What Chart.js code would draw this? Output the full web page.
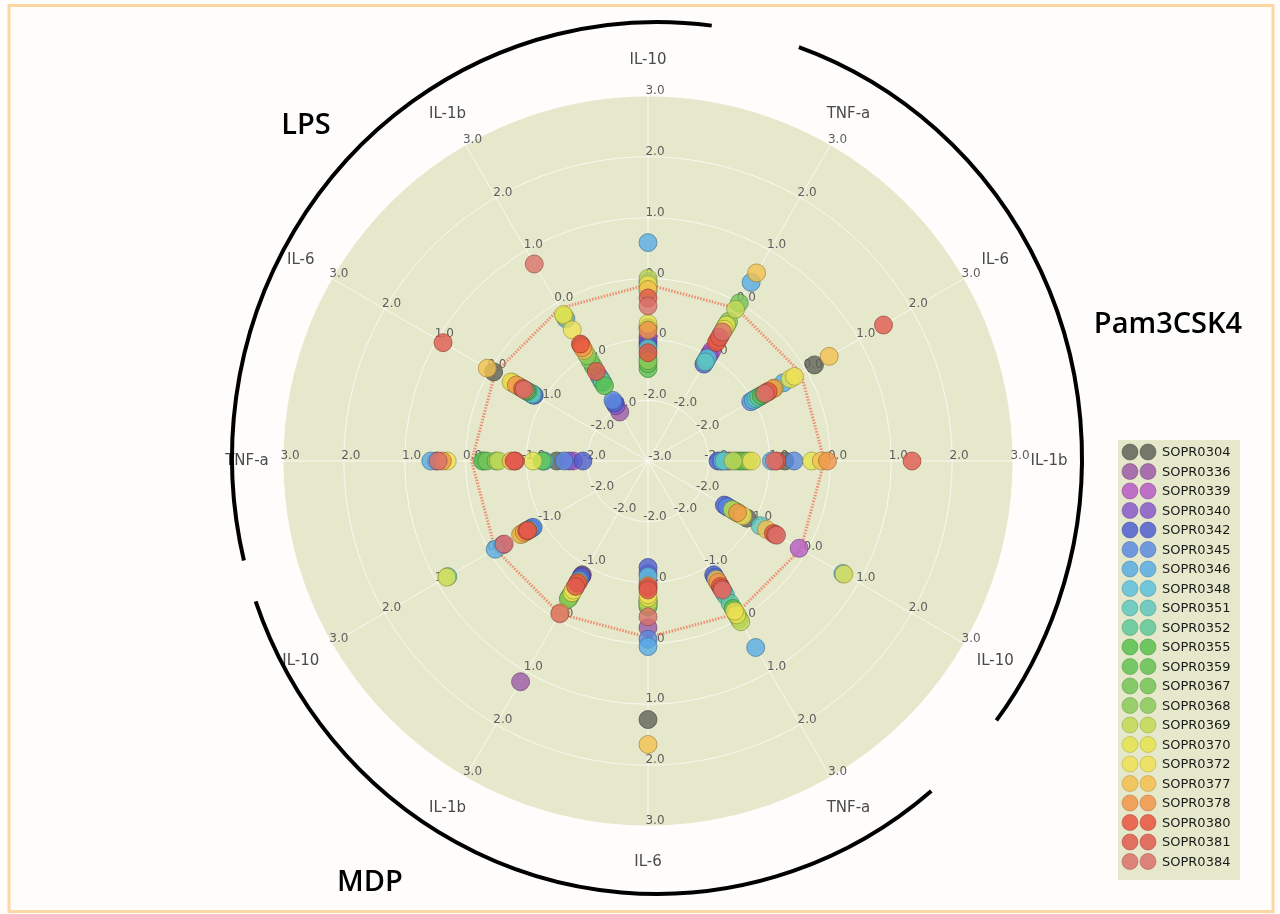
<!DOCTYPE html>
<html><head><meta charset="utf-8">
<script src="https://cdn.jsdelivr.net/npm/chart.js@4.4.0/dist/chart.umd.min.js"></script>
<style>html,body{margin:0;padding:0;background:#fff;}canvas{display:block;}</style>
</head><body>
<canvas id="c" width="1280" height="914"></canvas>
<script>
// ---------- data ----------
const spokes = ['IL-10','TNF-a','IL-6','IL-1b','IL-10','TNF-a','IL-6','IL-1b','IL-10','TNF-a','IL-6','IL-1b'];
const samples = ['SOPR0304','SOPR0336','SOPR0339','SOPR0340','SOPR0342','SOPR0345','SOPR0346','SOPR0348','SOPR0351','SOPR0352','SOPR0355','SOPR0359','SOPR0367','SOPR0368','SOPR0369','SOPR0370','SOPR0372','SOPR0377','SOPR0378','SOPR0380','SOPR0381','SOPR0384'];
const sampleColors = ['#5f6358','#9b59a6','#b55bc4','#8659c9','#4f5fd0','#5a8ae0','#58abe3','#5cc0dc','#5ec7bd','#5fc79a','#58bf4e','#63c253','#74c457','#8bca5a','#c0d955','#e3e34f','#ede054','#f2c04f','#f0954a','#e8523f','#e05a4f','#d9706a'];
const tickValues = [3, 2, 1, 0, -1, -2];
const centerTick = -3;
const groupNames = ['LPS', 'Pam3CSK4', 'MDP'];
const refLine = [-0.1,-0.1,-0.1,-0.1,-0.1,-0.1,-0.1,-0.1,-0.1,-0.1,-0.1,-0.1];

// values per spoke (one entry per sample, same order as samples)
const lpsIL10   = [-0.8,-0.95,-1.0,-1.05,-1.1,-0.05,0.59,-0.2,-1.15,-1.3,-1.48,-1.4,-0.12,-1.35,0.0,-0.74,-0.1,-0.18,-0.85,-1.22,-0.32,-0.45];
const pamTNFa   = [-0.45,-0.95,-0.9,-1.0,-1.16,-1.1,0.39,-1.05,-1.12,-0.6,-0.5,-0.4,0.0,-0.35,-0.12,-0.42,-0.5,0.57,-0.7,-0.75,-0.65,-0.55];
const pamIL6    = [0.16,-0.85,-0.9,-0.95,-1.0,-1.05,-0.43,-1.0,-0.95,-0.9,-0.85,-0.8,-0.7,-0.75,-0.6,-0.3,-0.22,0.44,-0.62,-0.72,1.47,-0.78];
const pamIL1b   = [-0.75,-1.7,-1.65,-1.8,-1.85,-0.6,-0.97,-1.78,-1.75,-1.55,-1.5,-1.45,-1.4,-1.35,-1.6,-0.31,-1.3,-0.15,-0.05,-0.88,1.34,-0.92];
const pamIL10   = [-1.12,-1.45,-0.13,-1.5,-1.55,-1.5,0.7,-1.4,-0.87,-1.35,-1.3,-1.35,-1.3,-1.25,-1.4,0.72,-1.2,-0.75,-1.3,-0.62,-0.58,-0.56];
const mdpTNFa   = [-0.65,-0.7,-0.72,-0.8,-0.84,-0.78,0.54,-0.5,-0.45,-0.3,-0.2,-0.1,-0.05,0.0,0.05,-0.08,-0.15,-0.75,-0.7,-0.62,-0.58,-0.55];
const mdpIL6    = [1.25,-0.26,-1.0,-1.15,-1.25,-0.07,0.05,-1.1,-0.7,-0.68,-0.65,-0.62,-0.6,-0.72,-0.66,-0.75,-0.8,1.66,-0.95,-0.92,-0.88,-0.44];
const mdpIL1b   = [-0.84,1.19,-0.8,-0.82,-0.8,-0.75,-0.7,-0.72,-0.6,-0.55,-0.45,-0.4,-0.42,-0.38,-0.5,-0.5,-0.55,-0.12,-0.7,-0.68,-0.62,-0.1];
const mdpIL10   = [-0.6,-0.25,-0.75,-0.78,-0.8,-0.82,-0.1,-0.75,0.8,-0.7,-0.72,-0.68,-0.7,-0.66,-0.64,0.82,-0.62,-0.58,-0.65,-0.7,-0.72,-0.27];
const lpsTNFa   = [-1.5,0.48,-1.77,-1.7,-1.93,-1.62,0.57,-1.3,-1.28,-0.3,-0.28,-1.26,-0.35,-0.5,-0.54,-1.11,0.3,-0.75,0.38,-0.82,-0.8,0.45];
const lpsIL6    = [-0.07,-0.8,-0.78,-0.82,-0.84,-0.8,-0.82,-0.75,-0.8,-0.72,-0.7,-0.68,-0.6,-0.55,-0.42,-0.45,-0.4,0.05,-0.5,-0.62,0.89,-0.65];
const lpsIL1b   = [-0.8,-2.07,-1.4,-1.95,-1.9,-1.85,-0.3,-1.5,-1.45,-1.5,-1.57,-1.2,-1.1,-1.0,-0.25,-0.22,-0.51,-0.9,-0.85,-0.78,-1.3,0.74];

const spokeValues = [lpsIL10, pamTNFa, pamIL6, pamIL1b, pamIL10, mdpTNFa, mdpIL6, mdpIL1b, mdpIL10, lpsTNFa, lpsIL6, lpsIL1b];

// ---------- helpers ----------
function rgba(hex, a) {
  const n = parseInt(hex.slice(1), 16);
  return `rgba(${(n>>16)&255},${(n>>8)&255},${n&255},${a})`;
}
function darker(hex, f, a) {
  const n = parseInt(hex.slice(1), 16);
  return `rgba(${Math.round(((n>>16)&255)*f)},${Math.round(((n>>8)&255)*f)},${Math.round((n&255)*f)},${a})`;
}

const CX = 648, CY = 461, R = 365;
const W = 1280, H = 914;

const datasets = samples.map((name, j) => ({
  label: name,
  data: spokeValues.map(s => s[j]),
  showLine: false,
  pointRadius: 9,
  pointHoverRadius: 9,
  pointBackgroundColor: rgba(sampleColors[j], 0.8),
  pointBorderColor: darker(sampleColors[j], 0.65, 0.65),
  pointBorderWidth: 1,
  borderColor: 'transparent',
  backgroundColor: 'transparent',
  order: samples.length - j
}));
datasets.push({
  label: 'ref',
  data: refLine,
  showLine: true,
  fill: false,
  pointRadius: 0,
  borderColor: 'rgba(240,120,90,0.8)',
  borderWidth: 3,
  borderDash: [1.5, 1.5],
  backgroundColor: 'transparent',
  order: 100
});

const bgPlugin = {
  id: 'bg',
  beforeDraw(chart) {
    const ctx = chart.ctx, s = chart.scales.r;
    ctx.save();
    ctx.fillStyle = '#fefdfc';
    ctx.fillRect(0, 0, W, H);
    ctx.strokeStyle = '#fcd7a2';
    ctx.lineWidth = 3;
    ctx.strokeRect(9, 5.5, 1264, 906);
    ctx.fillStyle = '#e6e8cb';
    ctx.beginPath();
    ctx.arc(s.xCenter, s.yCenter, s.drawingArea, 0, Math.PI * 2);
    ctx.fill();
    ctx.restore();
  }
};

const labelPlugin = {
  id: 'labels',
  beforeDatasetsDraw(chart) {
    const ctx = chart.ctx, s = chart.scales.r;
    ctx.save();
    ctx.font = '12px "DejaVu Sans"';
    ctx.fillStyle = '#5e5e5e';
    ctx.textAlign = 'center';
    ctx.textBaseline = 'middle';
    spokes.forEach((_, i) => {
      tickValues.forEach(v => {
        const p = s.getPointPositionForValue(i, v);
        ctx.fillText(v.toFixed(1), p.x + 7, p.y - 5);
      });
    });
    const c = s.getPointPositionForValue(0, centerTick);
    ctx.fillText(centerTick.toFixed(1), c.x + 12, c.y - 4);
    // spoke names
    ctx.font = '15px "DejaVu Sans"';
    ctx.fillStyle = '#4a4a4a';
    spokes.forEach((name, i) => {
      const p = s.getPointPosition(i, s.drawingArea + 36);
      ctx.fillText(name, p.x, p.y);
    });
    ctx.restore();
  }
};

const decoPlugin = {
  id: 'deco',
  afterDraw(chart) {
    const ctx = chart.ctx;
    ctx.save();
    // group arcs (elliptical, around the plot)
    const ex = 657, ey = 458, rx = 425, ry = 436;
    const arcs = [[166.4, 277.4], [-70.5, 37], [49.8, 160.8]];
    ctx.strokeStyle = '#000';
    ctx.lineWidth = 4;
    arcs.forEach(([a1, a2]) => {
      ctx.beginPath();
      ctx.ellipse(ex, ey, rx, ry, 0, a1 * Math.PI / 180, a2 * Math.PI / 180);
      ctx.stroke();
    });
    ctx.fillStyle = '#000';
    ctx.font = '600 29px "Open Sans"';
    ctx.textAlign = 'center';
    ctx.textBaseline = 'middle';
    const gpos = [[306, 126], [1168, 325], [370, 883]];
    groupNames.forEach((g, k) => ctx.fillText(g, gpos[k][0], gpos[k][1]));

    // legend
    const lx = 1118, ly = 440, lw = 122, lh = 440;
    ctx.fillStyle = '#e6e8cb';
    ctx.fillRect(lx, ly, lw, lh);
    ctx.font = '13px "DejaVu Sans"';
    ctx.textAlign = 'left';
    samples.forEach((name, j) => {
      const y = ly + 12 + j * 19.5;
      [lx + 12, lx + 30].forEach(x => {
        ctx.beginPath();
        ctx.arc(x, y, 8, 0, Math.PI * 2);
        ctx.fillStyle = rgba(sampleColors[j], 0.85);
        ctx.fill();
        ctx.strokeStyle = darker(sampleColors[j], 0.75, 0.5);
        ctx.lineWidth = 1;
        ctx.stroke();
      });
      ctx.fillStyle = '#1a1a1a';
      ctx.fillText(name, lx + 44, y + 1);
    });
    ctx.restore();
  }
};

new Chart(document.getElementById('c'), {
  type: 'radar',
  data: { labels: spokes, datasets },
  options: {
    responsive: false,
    animation: false,
    devicePixelRatio: 1,
    layout: { padding: { left: CX - R, right: W - CX - R, top: CY - R, bottom: H - CY - R } },
    plugins: { legend: { display: false }, tooltip: { enabled: false } },
    scales: {
      r: {
        min: -3, max: 3,
        ticks: { display: false, stepSize: 1 },
        pointLabels: { display: false },
        grid: { circular: true, color: 'rgba(255,255,255,0.7)', lineWidth: 1 },
        angleLines: { color: 'rgba(255,255,255,0.7)', lineWidth: 1 }
      }
    }
  },
  plugins: [bgPlugin, labelPlugin, decoPlugin]
});
</script>
</body></html>
